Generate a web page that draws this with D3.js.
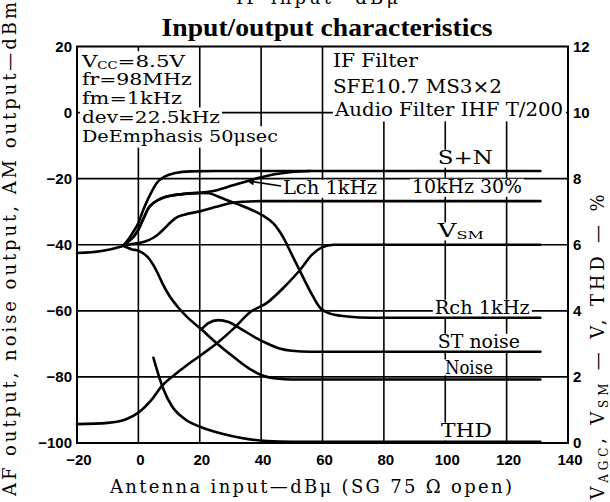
<!DOCTYPE html>
<html><head><meta charset="utf-8">
<script src="https://cdn.jsdelivr.net/npm/d3@7/dist/d3.min.js"></script>
<style>body{margin:0;background:#fff}svg{display:block}</style>
</head><body>
<svg id="c" width="610" height="502"></svg>
<script>
// ---------- data ----------
const xTicks = [-20, 0, 20, 40, 60, 80, 100, 120, 140];
const xTickLabels = ["−20", "0", "20", "40", "60", "80", "100", "120", "140"];
const yLeftTicks = [20, 0, -20, -40, -60, -80, -100];
const yLeftTickLabels = ["20", "0", "−20", "−40", "−60", "−80", "−100"];
const yRightTicks = [12, 10, 8, 6, 4, 2, 0];
const xGrid = [0, 20, 40, 60, 80, 100, 120];
const yGrid = [0, -20, -40, -60, -80];

// dBm (left axis)
const sPlusN = [[-20,-42.5],[-12,-41.9],[-7,-40.9],[-5,-40.3],[-3,-38],[-1.6,-36],[0,-33.4],[1.6,-29.4],[3.8,-24.9],[6,-21.3],[8.7,-19.3],[12,-18.3],[17,-17.8],[25,-17.7],[131,-17.7]];
const lch1k = [[-5,-40.3],[-3.3,-39],[-1.5,-37.5],[0,-35.4],[1.7,-32],[3.3,-28.9],[5,-27.3],[6.5,-26.4],[8.5,-25.6],[10.9,-25.1],[15,-24.6],[20,-24.3],[24,-23.8],[30.5,-22.1],[35.9,-20.6],[40,-19.6],[45,-18.6],[50,-18],[56,-17.7]];
const rch1k = [[-5,-40.3],[-3.3,-39],[-1.5,-37.5],[0,-35.4],[1.7,-32],[3.3,-28.9],[5,-27.3],[6.5,-26.4],[8.5,-25.6],[10.9,-25.1],[15,-24.6],[20,-24.3],[23,-24.4],[26,-25.4],[29.4,-26.7],[33.5,-28.1],[38,-29.9],[41,-31.4],[44,-33.5],[47.3,-37.9],[50,-43],[52.8,-48.2],[56,-54.1],[59.3,-59.2],[62,-60.7],[66,-61.5],[72,-62],[80,-62.1],[131,-62.1]];
const am10k = [[-5,-40.3],[-2.2,-39.8],[2.2,-39],[5,-37.8],[6.5,-36.8],[8.7,-34.9],[10.5,-33.2],[12,-32],[15,-30.9],[20,-29.9],[25,-28.6],[29.4,-27.5],[34,-27],[40,-26.8],[131,-26.8]];
const noise = [[-5,-40.3],[-2,-41.4],[0,-41.8],[3.3,-44],[5,-46.3],[6.5,-49],[8,-52],[10,-55.3],[13,-59],[16,-62],[20.5,-65.6],[26,-70.2],[31.5,-74.3],[36,-77.4],[40,-79.4],[45,-80.5],[50,-80.8],[131,-80.8]];
const stNoise = [[20.5,-65.6],[22.8,-63.7],[26,-62.8],[29.4,-63.4],[33.5,-65.5],[38,-68],[42,-69.9],[46,-71.4],[50,-72.1],[56,-72.4],[131,-72.4]];
// V (right axis)
const vsm = [[-20,0.57],[-10,0.61],[-4,0.72],[0,0.92],[4.4,1.32],[7.6,1.72],[12,2.08],[16,2.37],[20.7,2.68],[26,3.05],[31,3.46],[36.4,3.96],[41.9,4.24],[47.3,4.70],[52.8,5.25],[56.6,5.70],[59.8,5.92],[63.6,6.0],[131,6.0]];
// % (right axis)
const thd = [[4.9,2.58],[6.5,2.08],[8.2,1.62],[10.9,1.12],[15.2,0.72],[20.7,0.47],[28.3,0.26],[33.2,0.16],[38,0.09],[42,0.06],[50,0.04],[131,0.04]];

// annotation texts (anchor in data units of x / left axis)
const infoLeft = [
  {parts:[["V"],["CC",1],["=8.5V"]], x:-18.4, y:13.9, len:103},
  {parts:[["fr=98MHz"]], x:-18.4, y:8.2, len:110},
  {parts:[["fm=1kHz"]], x:-18.4, y:2.7, len:100},
  {parts:[["dev=22.5kHz"]], x:-18.4, y:-3.1, len:138},
  {parts:[["DeEmphasis 50μsec"]], x:-18.4, y:-8.8, len:196}
];
const infoRight = [
  {parts:[["IF Filter"]], x:63.4, y:13.9, len:85},
  {parts:[["SFE10.7 MS3×2"]], x:63.4, y:5.8, len:169},
  {parts:[["Audio Filter IHF T/200"]], x:64.1, y:-1.0, len:228}
];
const infoRightBox = [63.4, 139.3, -2.6, 20];
const curveLabels = [
  {parts:[["S+N"]], x:97.6, y:-15.6, len:55},
  {parts:[["10kHz 30%"]], x:89.2, y:-24.4, len:110},
  {parts:[["Lch 1kHz"]], x:47.1, y:-24.7, len:94},
  {parts:[["V"],["SM",1]], x:97.6, y:-37.6, len:46},
  {parts:[["Rch 1kHz"]], x:96.6, y:-61, len:95},
  {parts:[["ST  noise"]], x:97.6, y:-71.3, len:82},
  {parts:[["Noise"]], x:99.9, y:-79.1, len:48, bot:0.08},
  {parts:[["THD"]], x:98.6, y:-98.2, len:51}
];
const lchArrow = [[46.5,-22.2],[35.6,-20.7]];

// ---------- scales ----------
const svg = d3.select("#c");
const x = d3.scaleLinear().domain([-20,140]).range([77,568]);
const yL = d3.scaleLinear().domain([-100,20]).range([443,46.5]);
const yR = d3.scaleLinear().domain([0,12]).range([443,46.5]);
const serif = "'DejaVu Serif', serif";
const sans = "'Liberation Sans', Arial, sans-serif";

const gGrid = svg.append("g"), gBg = svg.append("g"), gCurve = svg.append("g"), gText = svg.append("g"), gFrame = svg.append("g");

// grid
gGrid.selectAll("line.v").data(xGrid).join("line")
  .attr("x1", d=>x(d)).attr("x2", d=>x(d)).attr("y1", yL(20)).attr("y2", yL(-100))
  .attr("stroke","#000").attr("stroke-width",1.6);
gGrid.selectAll("line.h").data(yGrid).join("line")
  .attr("y1", d=>yL(d)).attr("y2", d=>yL(d)).attr("x1", x(-20)).attr("x2", x(140))
  .attr("stroke","#000").attr("stroke-width",1.6);

// white box of the upper right note
gBg.append("rect").attr("x", x(infoRightBox[0])).attr("y", yL(infoRightBox[3]))
  .attr("width", x(infoRightBox[1]) - x(infoRightBox[0])).attr("height", yL(infoRightBox[2]) - yL(infoRightBox[3]))
  .attr("fill","#fff");

function addText(d, fs, top, bot){
  const t = gText.append("text").attr("x", x(d.x)).attr("y", yL(d.y))
    .attr("font-family", serif).attr("font-size", fs).attr("fill","#000");
  d.parts.forEach((p,i)=>{
    const s = t.append("tspan").text(p[0]);
    if (p[1]) s.attr("font-size", fs*0.62).attr("dy", fs*0.12);
    else if (i>0 && d.parts[i-1][1]) s.attr("dy", -fs*0.12);
  });
  if (d.len) t.attr("textLength", d.len).attr("lengthAdjust","spacingAndGlyphs");
  const w = d.len || t.node().getComputedTextLength();
  const b = (d.bot!==undefined)? d.bot : bot;
  gBg.append("rect").attr("x", x(d.x)-2).attr("y", yL(d.y) - top*fs)
    .attr("width", w+4).attr("height", (top+b)*fs).attr("fill","#fff");
}
infoLeft.forEach(d=>addText(d, 17.5, 0.88, 0.34));
infoRight.forEach(d=>addText(d, 18, 0.86, 0.3));
curveLabels.forEach(d=>addText(d, 18, 0.8, 0.2));

// curves
const lineL = d3.line().x(d=>x(d[0])).y(d=>yL(d[1])).curve(d3.curveMonotoneX);
const lineR = d3.line().x(d=>x(d[0])).y(d=>yR(d[1])).curve(d3.curveMonotoneX);
[sPlusN, lch1k, rch1k, am10k, noise, stNoise].forEach(s=>{
  gCurve.append("path").attr("d", lineL(s)).attr("fill","none").attr("stroke","#000")
    .attr("stroke-width",2.6).attr("stroke-linejoin","round").attr("stroke-linecap","round");
});
[vsm, thd].forEach(s=>{
  gCurve.append("path").attr("d", lineR(s)).attr("fill","none").attr("stroke","#000")
    .attr("stroke-width",2.6).attr("stroke-linejoin","round").attr("stroke-linecap","round");
});

// arrow to Lch curve
svg.append("defs").append("marker").attr("id","ah").attr("viewBox","0 0 10 10")
  .attr("refX",9).attr("refY",5).attr("markerWidth",9).attr("markerHeight",7)
  .attr("markerUnits","userSpaceOnUse").attr("orient","auto")
  .append("path").attr("d","M0,0L10,5L0,10z").attr("fill","#000");
gText.append("line").attr("x1", x(lchArrow[0][0])).attr("y1", yL(lchArrow[0][1]))
  .attr("x2", x(lchArrow[1][0])).attr("y2", yL(lchArrow[1][1]))
  .attr("stroke","#000").attr("stroke-width",1.6).attr("marker-end","url(#ah)");

// frame
gFrame.append("rect").attr("x", x(-20)).attr("y", yL(20)).attr("width", x(140)-x(-20))
  .attr("height", yL(-100)-yL(20)).attr("fill","none").attr("stroke","#000").attr("stroke-width",2);

// tick labels
gFrame.selectAll("text.yl").data(yLeftTicks).join("text")
  .attr("x", x(-20)-5).attr("y", d=>yL(d)).attr("dy","0.36em").attr("text-anchor","end")
  .attr("font-family", sans).attr("font-weight","bold").attr("font-size",15)
  .text((d,i)=>yLeftTickLabels[i]);
gFrame.selectAll("text.yr").data(yRightTicks).join("text")
  .attr("x", x(140)+5).attr("y", d=>yR(d)).attr("dy","0.36em").attr("text-anchor","start")
  .attr("font-family", sans).attr("font-weight","bold").attr("font-size",15)
  .text(d=>d);
gFrame.selectAll("text.xt").data(xTicks).join("text")
  .attr("x", d=>x(d)+2).attr("y", yL(-100)+22).attr("text-anchor","middle")
  .attr("font-family", sans).attr("font-weight","bold").attr("font-size",15)
  .text((d,i)=>xTickLabels[i]);

// titles
svg.append("text").attr("x", 317).attr("y", 4).attr("text-anchor","middle")
  .attr("font-family", serif).attr("font-size",18).attr("textLength",162).attr("lengthAdjust","spacing")
  .text("IF input—dBμ");
svg.append("text").attr("x", 327).attr("y", 36).attr("text-anchor","middle")
  .attr("font-family", "'Liberation Serif', serif").attr("font-weight","bold").attr("font-size",25)
  .attr("textLength",331).attr("lengthAdjust","spacingAndGlyphs")
  .text("Input/output characteristics");
svg.append("text").attr("x", 311).attr("y", 493).attr("text-anchor","middle")
  .attr("font-family", serif).attr("font-size",18).attr("textLength",402).attr("lengthAdjust","spacing")
  .text("Antenna input—dBμ (SG 75 Ω open)");
svg.append("text").attr("transform","translate(16,249) rotate(-90)").attr("text-anchor","middle")
  .attr("font-family", serif).attr("font-size",18).attr("textLength",494).attr("lengthAdjust","spacing")
  .text("AF output, noise output, AM output—dBm");
const rt = svg.append("text").attr("transform","translate(604,347) rotate(-90)").attr("text-anchor","middle")
  .attr("font-family", serif).attr("font-size",18);
rt.append("tspan").text("V");
rt.append("tspan").text("AGC").attr("font-size",12).attr("dy",4);
rt.append("tspan").text(", V").attr("dy",-4);
rt.append("tspan").text("SM").attr("font-size",12).attr("dy",4);
rt.append("tspan").text("  —  V, THD  —  %").attr("dy",-4);
rt.attr("textLength",305).attr("lengthAdjust","spacing");
</script>
</body></html>
